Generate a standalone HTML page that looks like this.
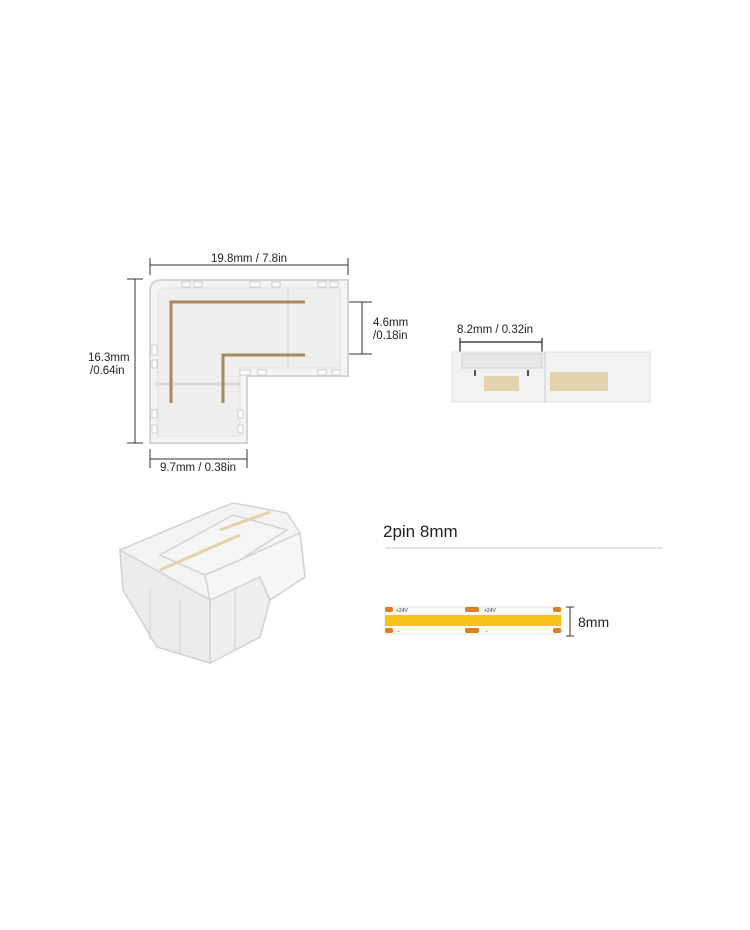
<!DOCTYPE html>
<html><head><meta charset="utf-8"><style>
body{margin:0;background:#fff;}
svg{display:block;font-family:"Liberation Sans",sans-serif;}
</style></head><body>
<svg width="750" height="930" viewBox="0 0 750 930">
<!-- top view L connector -->
<g stroke="#333" stroke-width="1" fill="none">
<line x1="150" y1="265" x2="348" y2="265"/><line x1="150" y1="258" x2="150" y2="275"/><line x1="348" y1="258" x2="348" y2="275"/>
<line x1="135" y1="279" x2="135" y2="443"/><line x1="127" y1="279" x2="143" y2="279"/><line x1="127" y1="443" x2="143" y2="443"/>
<line x1="362" y1="302" x2="362" y2="354"/><line x1="312" y1="302" x2="372" y2="302"/><line x1="312" y1="354" x2="372" y2="354"/>
<line x1="150" y1="459" x2="247" y2="459"/><line x1="150" y1="449" x2="150" y2="468"/><line x1="247" y1="449" x2="247" y2="468"/>
</g>
<path d="M150,443 L150,292 Q150,280 162,280 L348,280 L348,376 L247,376 L247,443 Z" fill="#f4f4f4" stroke="#d4d4d4" stroke-width="2"/>
<path d="M158,436 L158,296 Q158,288 166,288 L340,288 L340,368 L240,368 L240,436 Z" fill="#efefef" stroke="#e0e0e0" stroke-width="1"/>
<g fill="#fff" stroke="#ccc" stroke-width="1">
<rect x="182" y="282" width="8" height="5"/><rect x="194" y="282" width="8" height="5"/><rect x="250" y="282" width="10" height="5"/><rect x="272" y="282" width="8" height="5"/><rect x="318" y="282" width="8" height="5"/><rect x="330" y="282" width="8" height="5"/>
<rect x="152" y="345" width="5" height="10"/><rect x="152" y="360" width="5" height="8"/><rect x="152" y="410" width="5" height="8"/><rect x="152" y="425" width="5" height="8"/>
<rect x="240" y="370" width="10" height="5"/><rect x="258" y="370" width="8" height="5"/><rect x="318" y="370" width="8" height="5"/><rect x="332" y="370" width="8" height="5"/>
<rect x="238" y="410" width="5" height="8"/><rect x="238" y="425" width="5" height="8"/>
</g>
<line x1="155" y1="384" x2="240" y2="384" stroke="#d8d8d8" stroke-width="3"/>
<line x1="288" y1="290" x2="288" y2="366" stroke="#e2e2e2" stroke-width="2"/>
<g stroke="#a98a5f" stroke-width="3" fill="none">
<path d="M171,403 L171,302 L305,302"/><path d="M223,403 L223,355 L305,355"/>
</g>
<g font-size="11.5" fill="#222">
<text x="249" y="262" text-anchor="middle">19.8mm / 7.8in</text>
<text x="88" y="361">16.3mm</text><text x="90" y="374">/0.64in</text>
<text x="373" y="326">4.6mm</text><text x="373" y="339">/0.18in</text>
<text x="198" y="471" text-anchor="middle">9.7mm / 0.38in</text>
<text x="457" y="333">8.2mm / 0.32in</text>
</g>
<!-- side view -->
<g stroke="#222" stroke-width="1.2"><line x1="460" y1="342" x2="542" y2="342"/><line x1="460" y1="338" x2="460" y2="363"/><line x1="542" y1="338" x2="542" y2="363"/></g>
<rect x="452" y="352" width="198" height="50" fill="#f2f2f2" stroke="#ddd"/>
<rect x="462" y="354" width="80" height="14" fill="#e8e8e8" stroke="#d0d0d0"/>
<line x1="545" y1="352" x2="545" y2="402" stroke="#ccc"/>
<rect x="484" y="376" width="35" height="15" fill="#e2d2ae"/>
<rect x="550" y="372" width="58" height="19" fill="#e2d2ae"/>
<line x1="475" y1="370" x2="475" y2="376" stroke="#222" stroke-width="1.5"/><line x1="528" y1="370" x2="528" y2="376" stroke="#222" stroke-width="1.5"/>
<!-- 3D connector -->
<g stroke="#d2d2d2" stroke-width="1.5" fill="#f4f4f4">
<polygon points="120,550 210,512 233,503 287,513 300,533 305,577 270,600 260,637 210,663 157,647 123,590"/>
<polygon points="120,550 210,600 210,663 157,647 123,590" fill="#ececec"/>
<polygon points="210,600 260,577 270,600 260,637 210,663" fill="#efefef"/>
<polygon points="205,575 240,560 300,533 305,577 270,600 260,577 210,600" fill="#f7f7f7"/>
<polygon points="160,555 233,515 287,530 240,560 205,575" fill="#f6f6f6"/>
</g>
<g stroke="#e3d3a8" stroke-width="3"><line x1="160" y1="570" x2="240" y2="535"/><line x1="220" y1="530" x2="270" y2="512"/></g>
<g stroke="#d0d0d0" stroke-width="1" fill="none"><line x1="150" y1="590" x2="150" y2="640"/><line x1="180" y1="600" x2="180" y2="655"/><line x1="235" y1="590" x2="235" y2="650"/></g>
<!-- strip -->
<text x="383" y="537" font-size="17" fill="#222">2pin 8mm</text>
<line x1="385" y1="548" x2="663" y2="548" stroke="#e4e4e4" stroke-width="2"/>
<rect x="385" y="607" width="176" height="27" fill="#fafafa" stroke="#e6e6e6"/>
<rect x="385" y="615" width="176" height="11" fill="#f7c21a"/>
<g fill="#e07d1a">
<rect x="385" y="607" width="8" height="5" rx="2"/><rect x="465" y="607" width="14" height="5" rx="2"/><rect x="553" y="607" width="8" height="5" rx="2"/>
<rect x="385" y="628" width="8" height="5" rx="2"/><rect x="465" y="628" width="14" height="5" rx="2"/><rect x="553" y="628" width="8" height="5" rx="2"/>
</g>
<g font-size="5" fill="#333"><text x="396" y="612">+24V</text><text x="484" y="612">+24V</text><text x="397" y="633">−</text><text x="485" y="633">−</text></g>
<g stroke="#333"><line x1="570" y1="607" x2="570" y2="636"/><line x1="566" y1="607" x2="574" y2="607"/><line x1="566" y1="636" x2="574" y2="636"/></g>
<text x="578" y="627" font-size="14" fill="#222">8mm</text>
</svg>
</body></html>
